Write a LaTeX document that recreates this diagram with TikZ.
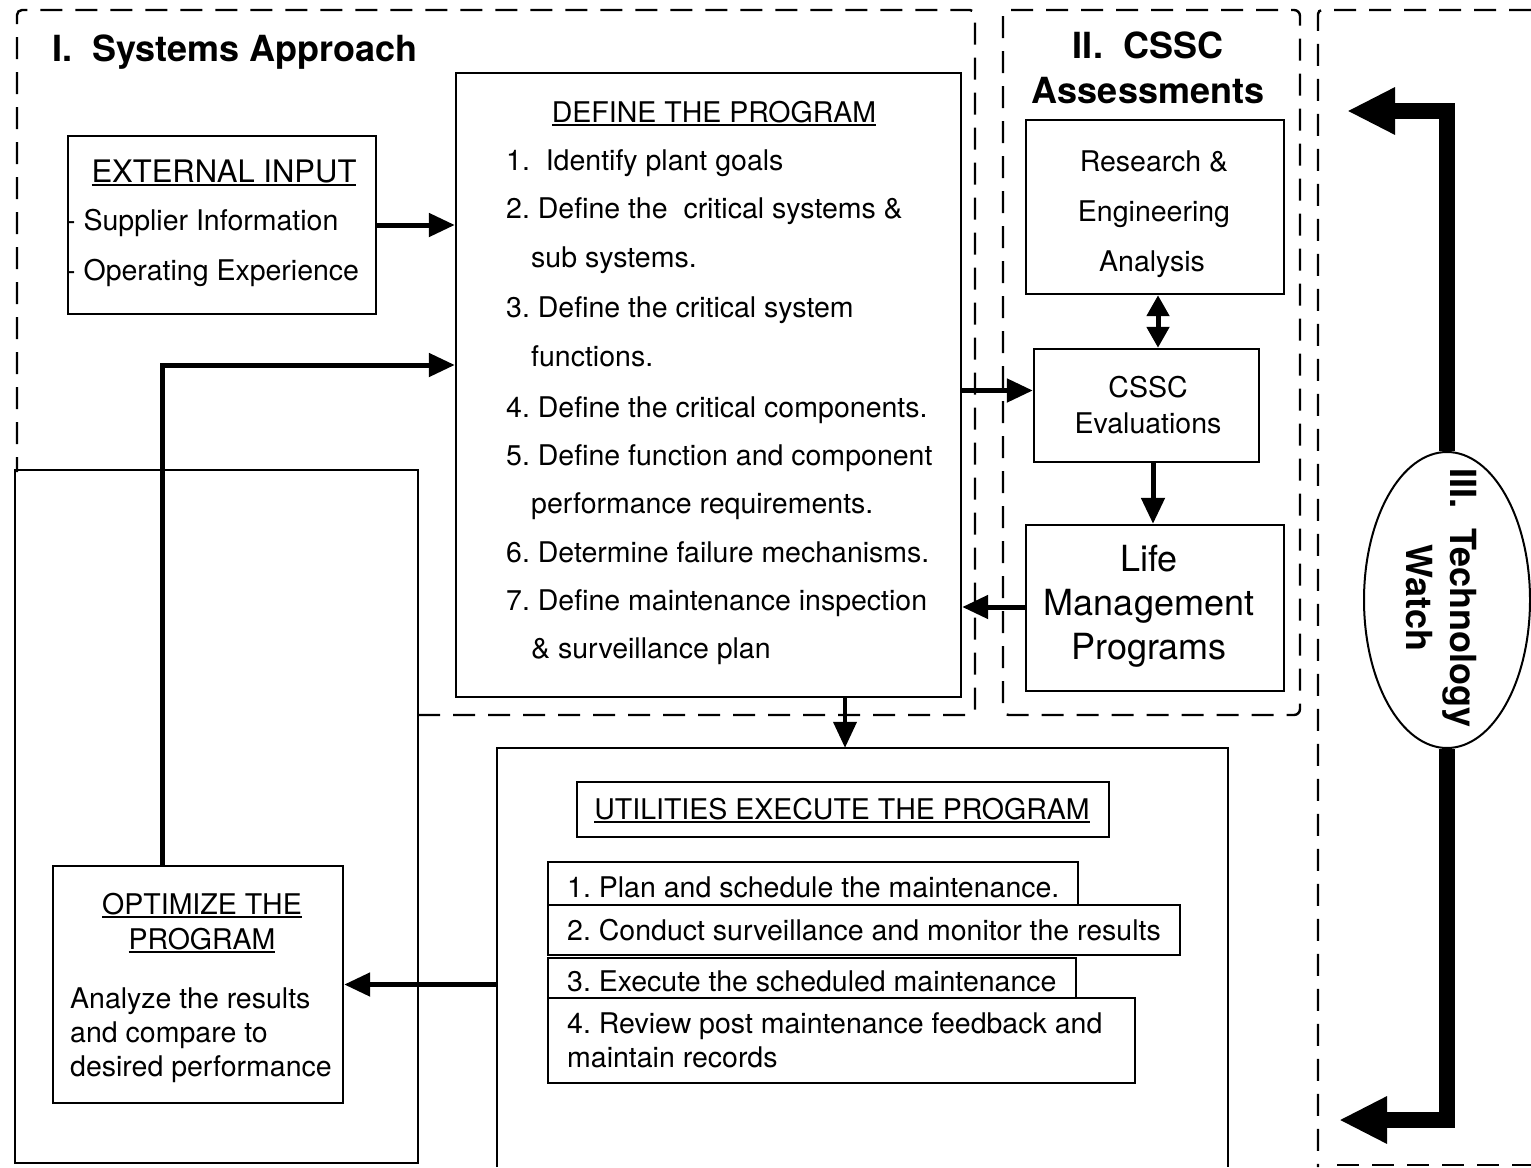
\documentclass[tikz,border=0pt]{standalone}
\usepackage{fontspec}
\setmainfont{TeX Gyre Heros}
\usetikzlibrary{arrows.meta,shapes.geometric}
\frenchspacing

% text with a heavy underline
\newcommand\ulin[1]{\setbox0\hbox{#1}\rlap{\rule[-3.5pt]{\wd0}{1.8pt}}\box0}

\tikzset{
  region/.style={line width=2.4pt, dash pattern=on 22pt off 13pt},
  box/.style={draw, line width=2.4pt, inner sep=0pt},
  txt/.style={inner sep=0pt, font=\fontsize{28.5}{34}\selectfont},
  bigtxt/.style={inner sep=0pt, font=\fontsize{36}{40}\selectfont},
  headtxt/.style={inner sep=0pt, font=\bfseries\fontsize{36}{40}\selectfont},
  conn/.style={line width=5pt, -{Triangle[length=26pt,width=23pt]}},
  biconn/.style={line width=5pt, {Triangle[length=21pt,width=22pt]}-{Triangle[length=21pt,width=22pt]}},
  watcharrow/.style={line width=16pt, -{Triangle[length=48pt,width=44pt]}},
}

\begin{document}
\begin{tikzpicture}[x=1pt,y=-1pt]
\useasboundingbox (0,0) rectangle (1531,1167);

% ---------- dashed region frames ----------
\draw[region, rounded corners=5pt] (418,715) -- (975,715) -- (975,10) -- (17,10) -- (17,472);
\draw[region, rounded corners=6pt] (1003,10) rectangle (1300,715);
\draw[region, rounded corners=4pt] (1531,10) -- (1318,10) -- (1318,1167);
\draw[region] (1337,1165) -- (1531,1165);

% ---------- boxes ----------
\node[box, minimum width=403pt, minimum height=693pt] (optreg) at (216.5,816.5) {};
\node[box, minimum width=308pt, minimum height=178pt] (ext) at (222,225) {};
\node[box, fill=white, minimum width=505pt, minimum height=624pt] (def) at (708.5,385) {};
\node[box, fill=white, minimum width=290pt, minimum height=237pt] (opt) at (198,984.5) {};
\node[inner sep=0pt, minimum width=731pt, minimum height=419pt] (exe) at (862.5,957.5) {};
\draw[line width=2.4pt] (exe.south west) |- (exe.north east) -- (exe.south east);
\node[box, minimum width=532pt, minimum height=55pt] (exh) at (843,809.5) {};
\node[box, minimum width=530pt, minimum height=43pt] (s1) at (813,883.5) {};
\node[box, minimum width=632pt, minimum height=50pt] (s2) at (864,930) {};
\node[box, minimum width=528pt, minimum height=40pt] (s3) at (812,978) {};
\node[box, minimum width=587pt, minimum height=85pt] (s4) at (841.5,1040.5) {};
\node[box, minimum width=258pt, minimum height=174pt] (res) at (1155,207) {};
\node[box, minimum width=225pt, minimum height=113pt] (eval) at (1146.5,405.5) {};
\node[box, minimum width=258pt, minimum height=166pt] (life) at (1155,608) {};
\node[draw, ellipse, line width=2pt, inner sep=0pt, minimum width=166pt, minimum height=296pt] (tw) at (1447,600) {};

% ---------- texts ----------
\node[headtxt, anchor=base west] (t1) at (52,61) {I.\ \ Systems Approach};
\node[headtxt, anchor=base] (t2a) at (1148,58) {II.\ \ CSSC};
\node[headtxt, anchor=base] (t2b) at (1148,103) {Assessments};
\node[headtxt, anchor=base, rotate=-90] (t3a) at (1450,598) {III.\ \ Technology};
\node[headtxt, anchor=base, rotate=-90] (t3b) at (1406,598) {Watch};

\node[txt, anchor=base, font=\fontsize{31}{36}\selectfont] (exthead) at (224,182) {\ulin{EXTERNAL INPUT}};
\node[txt, anchor=base west] (ext1) at (66,230) {- Supplier Information};
\node[txt, anchor=base west] (ext2) at (66,280) {- Operating Experience};

\node[txt, anchor=base] (defhead) at (714,122) {\ulin{DEFINE THE PROGRAM}};
\node[txt, anchor=base west] (d1) at (506,170) {1.\ \ Identify plant goals};
\node[txt, anchor=base west] (d2) at (506,218) {2. Define the\ \ critical systems \&};
\node[txt, anchor=base west] (d3) at (531,267) {sub systems.};
\node[txt, anchor=base west] (d4) at (506,317) {3. Define the critical system};
\node[txt, anchor=base west] (d5) at (531,366) {functions.};
\node[txt, anchor=base west] (d6) at (506,417) {4. Define the critical components.};
\node[txt, anchor=base west] (d7) at (506,465) {5. Define function and component};
\node[txt, anchor=base west] (d8) at (531,513) {performance requirements.};
\node[txt, anchor=base west] (d9) at (506,562) {6. Determine failure mechanisms.};
\node[txt, anchor=base west] (d10) at (506,610) {7. Define maintenance inspection};
\node[txt, anchor=base west] (d11) at (531,658) {\& surveillance plan};

\node[txt, anchor=base] (r1) at (1154,171) {Research \&};
\node[txt, anchor=base] (r2) at (1154,221) {Engineering};
\node[txt, anchor=base] (r3) at (1152,271) {Analysis};

\node[txt, anchor=base] (e1) at (1148,397) {CSSC};
\node[txt, anchor=base] (e2) at (1148,433) {Evaluations};

\node[bigtxt, anchor=base] (l1) at (1149,571) {Life};
\node[bigtxt, anchor=base] (l2) at (1149,615) {Management};
\node[bigtxt, anchor=base] (l3) at (1149,659) {Programs};

\node[txt, anchor=base] (o1) at (202,914) {\ulin{OPTIMIZE THE}};
\node[txt, anchor=base] (o2) at (202,949) {\ulin{PROGRAM}};
\node[txt, anchor=base west] (o3) at (70,1008) {Analyze the results};
\node[txt, anchor=base west] (o4) at (70,1042) {and compare to};
\node[txt, anchor=base west] (o5) at (70,1076) {desired performance};

\node[txt, anchor=base] (uh) at (842,819) {\ulin{UTILITIES EXECUTE THE PROGRAM}};
\node[txt, anchor=base west] (st1) at (567,897) {1. Plan and schedule the maintenance.};
\node[txt, anchor=base west] (st2) at (567,940) {2. Conduct surveillance and monitor the results};
\node[txt, anchor=base west] (st3) at (567,991) {3. Execute the scheduled maintenance};
\node[txt, anchor=base west] (st4) at (567,1033) {4. Review post maintenance feedback and};
\node[txt, anchor=base west] (st5) at (567,1067) {maintain records};

% ---------- connectors ----------
\draw[conn] (ext.east) -- (def.west |- ext.east);
\coordinate (fbin) at ([yshift=20pt]def.west);
\draw[conn] ([xshift=-36pt]opt.north) |- (fbin);
\coordinate (evin) at ([yshift=15pt]eval.west);
\draw[conn] (def.east |- evin) -- (evin);
\draw[biconn] ([xshift=3pt]res.south) -- ([xshift=3pt]res.south |- eval.north);
\draw[conn] ([xshift=6.5pt]eval.south) -- ([xshift=6.5pt]eval.south |- life.north);
\draw[conn] ([yshift=1pt]life.west) -- ([yshift=1pt]def.east |- life.west);
\draw[conn, line width=4pt] ([xshift=136.5pt]def.south) -- ([xshift=136.5pt]def.south |- exe.north);
\draw[conn] (exe.west |- opt.east) -- (opt.east);

% technology watch feeds
\coordinate (twtop) at (1347,111);
\coordinate (twbot) at (1339,1120);
\draw[watcharrow] (tw.north) |- (twtop);
\draw[watcharrow] (tw.south) |- (twbot);
\end{tikzpicture}
\end{document}
